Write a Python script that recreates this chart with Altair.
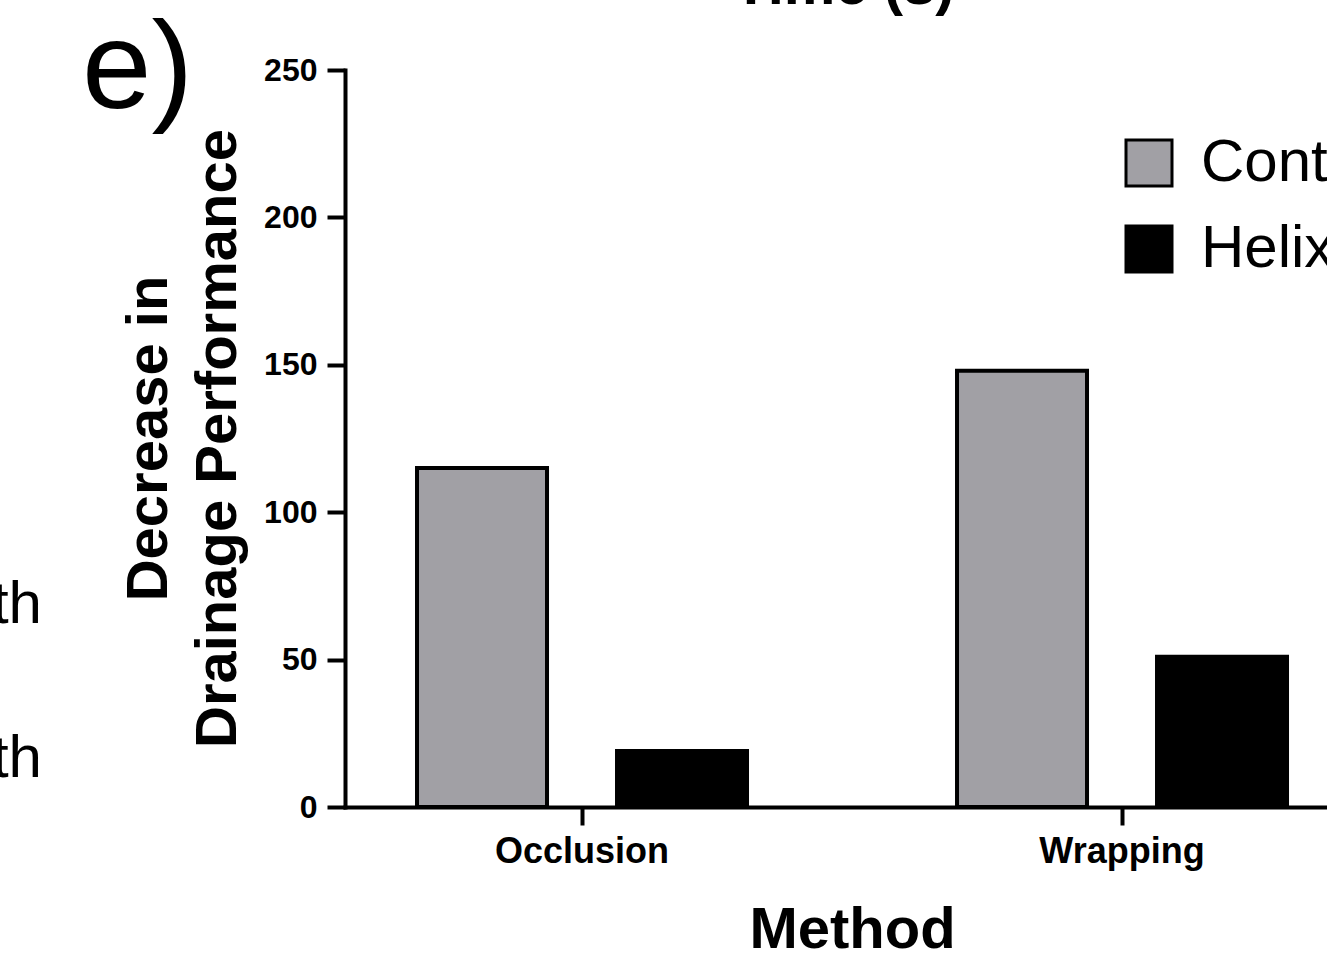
import altair as alt
import pandas as pd

# ---- data ----
methods = ["Occlusion", "Wrapping", "Occlusion", "Wrapping"]
groups = ["Control", "Control", "Helix", "Helix"]
values = [115, 148, 19, 51]

group_order = ["Control", "Helix"]
group_colors = ["#a1a0a5", "#000000"]
y_ticks = [0, 50, 100, 150, 200, 250]

y_title = ["Decrease in", "Drainage Performance"]
x_title = "Method"

panel_label = ["e)"]
cut_title = ["Time (s)"]
edge_text = ["th", "th"]

df = pd.DataFrame({"Method": methods, "Group": groups, "Value": values})

FONT = "Liberation Sans"
W, H = 982, 737

bars = alt.Chart(df).mark_bar(stroke="black", strokeWidth=4, opacity=1).encode(
    x=alt.X(
        "Method:N",
        sort=["Occlusion", "Wrapping"],
        scale=alt.Scale(paddingInner=0.3889, paddingOuter=0.1037, align=0.643),
        axis=alt.Axis(
            title=x_title, titleFont=FONT, titleFontSize=58, titleFontWeight="bold",
            titleColor="black", titleX=507, titleY=140, titleAlign="center",
            titleBaseline="alphabetic",
            labelFont=FONT, labelFontSize=36, labelFontWeight="bold", labelColor="black",
            labelAngle=0, labelPadding=9, tickSize=18, tickWidth=4, tickColor="black",
            domainWidth=4, domainColor="black", domainCap="square", grid=False,
        ),
    ),
    xOffset=alt.XOffset("Group:N", sort=group_order,
                        scale=alt.Scale(paddingInner=0.35, paddingOuter=0)),
    y=alt.Y(
        "Value:Q",
        scale=alt.Scale(domain=[0, 250], nice=False),
        axis=alt.Axis(
            values=y_ticks, title=y_title, titleFont=FONT, titleFontSize=58,
            titleFontWeight="bold", titleColor="black", titleAngle=270,
            titleX=-179, titleY=368, titleAlign="center", titleBaseline="alphabetic",
            titleLineHeight=69,
            labelFont=FONT, labelFontSize=32, labelFontWeight="bold", labelColor="black",
            labelPadding=10, tickSize=18, tickWidth=4, tickColor="black",
            domainWidth=4, domainColor="black", domainCap="square", grid=False,
        ),
    ),
    color=alt.Color(
        "Group:N",
        sort=group_order,
        scale=alt.Scale(domain=group_order, range=group_colors),
        legend=alt.Legend(
            orient="none", legendX=774, legendY=63, title=None, padding=0,
            symbolType="square", symbolSize=2116, symbolStrokeColor="black",
            symbolStrokeWidth=3, symbolOpacity=1,
            labelFont=FONT, labelFontSize=60, labelColor="black", labelOffset=22,
            labelLimit=1000, rowPadding=26,
        ),
    ),
)

lbl = alt.Chart(pd.DataFrame({"t": panel_label})).mark_text(
    font=FONT, fontSize=125, align="left", baseline="alphabetic", color="black"
).encode(text="t:N", x=alt.value(-263), y=alt.value(38))

top = alt.Chart(pd.DataFrame({"t": cut_title})).mark_text(
    font=FONT, fontSize=58, fontWeight="bold", align="center", baseline="alphabetic",
    color="black"
).encode(text="t:N", x=alt.value(499), y=alt.value(-66))

edge1 = alt.Chart(pd.DataFrame({"t": edge_text[:1]})).mark_text(
    font=FONT, fontSize=60, align="right", baseline="alphabetic", color="black"
).encode(text="t:N", x=alt.value(-303), y=alt.value(553))

edge2 = alt.Chart(pd.DataFrame({"t": edge_text[1:]})).mark_text(
    font=FONT, fontSize=60, align="right", baseline="alphabetic", color="black"
).encode(text="t:N", x=alt.value(-303), y=alt.value(707))

chart = alt.layer(bars, lbl, top, edge1, edge2).properties(
    width=W, height=H,
    autosize=alt.AutoSizeParams(type="none"),
    padding={"left": 345, "top": 70, "right": 0, "bottom": 162},
    background="white",
).configure_view(stroke=None)

chart.save("out.html", embed_options={"renderer": "svg", "actions": False})
